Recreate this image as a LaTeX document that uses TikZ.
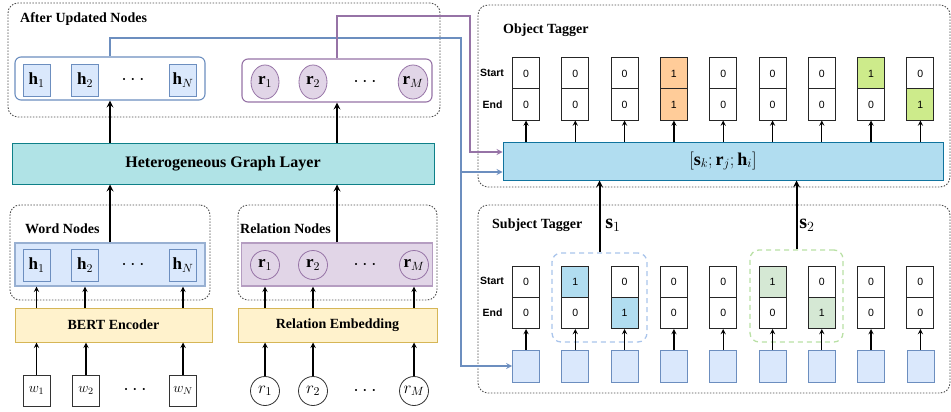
\RequirePackage{fix-cm}
\documentclass[tikz,border=0pt]{standalone}
\usepackage{fontspec}
\setmainfont{Liberation Serif}
\newfontfamily\cellfont{Liberation Sans}
\usetikzlibrary{shapes.geometric}

\definecolor{hfill}{HTML}{DAE8FC}
\definecolor{hline}{HTML}{6C8EBF}
\definecolor{rfill}{HTML}{E1D5E7}
\definecolor{rline}{HTML}{9673A6}
\definecolor{gfill}{HTML}{B0E3E6}
\definecolor{gline}{HTML}{0E8088}
\definecolor{yfill}{HTML}{FFF2CC}
\definecolor{yline}{HTML}{D6B656}
\definecolor{cfill}{HTML}{B1DDF0}
\definecolor{cline}{HTML}{10739E}
\definecolor{ofill}{HTML}{FFCC99}
\definecolor{lfill}{HTML}{CDEB8B}
\definecolor{sfill}{HTML}{B1DDF0}
\definecolor{tfill}{HTML}{D5E8D4}
\definecolor{selblue}{HTML}{A9C4EB}
\definecolor{selgreen}{HTML}{B9E0A5}

\tikzset{
  grp/.style={draw=black!70, dash pattern=on 1.5pt off 1.5pt, line width=0.9pt, rounded corners=10pt, inner sep=0pt},
  grplabel/.style={anchor=west, inner sep=0pt, font=\fontsize{14}{16}\selectfont\bfseries},
  vecgrp/.style={line width=1.1pt, rounded corners=6pt, inner sep=0pt},
  hbox/.style={draw=hline, fill=hfill, line width=0.8pt, minimum width=27pt, minimum height=32pt, inner sep=0pt, font=\fontsize{17}{19}\selectfont},
  rell/.style={ellipse, draw=rline, fill=rfill, line width=0.8pt, minimum width=28pt, minimum height=34pt, inner sep=0pt, font=\fontsize{17}{19}\selectfont},
  rcirc/.style={circle, draw=rline, fill=rfill, line width=0.8pt, minimum size=29pt, inner sep=0pt, font=\fontsize{17}{19}\selectfont},
  layer/.style={line width=1pt, inner sep=0pt, font=\fontsize{14}{16}\selectfont\bfseries},
  inbox/.style={draw=black!80, fill=white, line width=0.8pt, minimum width=27pt, minimum height=31pt, inner sep=0pt, font=\fontsize{14}{16}\selectfont},
  incirc/.style={circle, draw=black!80, fill=white, line width=0.8pt, minimum size=29pt, inner sep=0pt, font=\fontsize{17}{19}\selectfont},
  dots/.style={inner sep=0pt, font=\fontsize{20}{22}\selectfont},
  cell/.style={draw=black!85, line width=1pt, minimum width=27pt, minimum height=31pt, inner sep=0pt, font=\cellfont\fontsize{10.5}{12}\selectfont},
  rowlabel/.style={inner sep=0pt, font=\cellfont\fontsize{10.5}{12}\selectfont\bfseries},
  sqbox/.style={draw=hline, fill=hfill, line width=0.8pt, minimum width=27pt, minimum height=32pt, inner sep=0pt},
  sel/.style={dash pattern=on 5pt off 4pt, line width=1.3pt, rounded corners=9pt, inner sep=0pt},
  bigarrow/.style={->, line width=2pt},
  smallarrow/.style={->, line width=1.4pt},
  tagarrow/.style={->, line width=1.3pt},
  mathlab/.style={inner sep=0pt, font=\fontsize{20}{22}\selectfont},
}

\begin{document}
\begin{tikzpicture}[x=1pt, y=-1pt, >=stealth]
\useasboundingbox (0,0) rectangle (951,412);

% dashed groups
\node[grp, minimum width=432pt, minimum height=114pt] (after) at (224,60) {};
\node[grp, minimum width=200pt, minimum height=95pt] (wordgrp) at (110,252.5) {};
\node[grp, minimum width=199pt, minimum height=95pt] (relgrp) at (337.5,252.5) {};
\node[grp, minimum width=472pt, minimum height=182pt] (objgrp) at (714,96) {};
\node[grp, minimum width=472pt, minimum height=188pt] (subgrp) at (714,299) {};

\node[grplabel] (afterlab) at (20,19) {After Updated Nodes};
\node[grplabel] (wordlab) at (25,229) {Word Nodes};
\node[grplabel] (rellab) at (240,229) {Relation Nodes};
\node[grplabel] (objlab) at (503,30) {Object Tagger};
\node[grplabel] (sublab) at (492,225) {Subject Tagger};

% after updated nodes
\node[vecgrp, draw=hline, fill=white, minimum width=190pt, minimum height=43pt] (hgrp) at (110,78.5) {};
\node[hbox] (uh1) at (36.5,80) {$\mathbf{h}_1$};
\node[hbox] (uh2) at (85,80) {$\mathbf{h}_2$};
\node[dots] (uhd) at (133,80) {$\cdots$};
\node[hbox] (uhn) at (183,80) {$\mathbf{h}_N$};
\node[vecgrp, draw=rline, fill=white, minimum width=190pt, minimum height=43pt] (rgrp) at (337,80.5) {};
\node[rell] (ur1) at (265,82) {$\mathbf{r}_1$};
\node[rell] (ur2) at (313,82) {$\mathbf{r}_2$};
\node[dots] (urd) at (365,82) {$\cdots$};
\node[rell] (urm) at (413,82) {$\mathbf{r}_M$};

% graph layer
\node[layer, draw=gline, fill=gfill, minimum width=422pt, minimum height=41pt, font=\fontsize{16}{18}\selectfont\bfseries] (hgl) at (223,163.5) {Heterogeneous Graph Layer};

% word and relation nodes
\node[vecgrp, rounded corners=0pt, draw=hline!70, fill=hfill, minimum width=190pt, minimum height=43pt] (wbox) at (110,264.5) {};
\node[hbox] (wh1) at (36.5,265) {$\mathbf{h}_1$};
\node[hbox] (wh2) at (85,265) {$\mathbf{h}_2$};
\node[dots] (whd) at (133,265) {$\cdots$};
\node[hbox] (whn) at (183,265) {$\mathbf{h}_N$};
\node[vecgrp, rounded corners=0pt, draw=rline!70, fill=rfill, minimum width=191pt, minimum height=43pt] (rbox) at (337,264.5) {};
\node[rcirc] (rr1) at (265,265) {$\mathbf{r}_1$};
\node[rcirc] (rr2) at (313,265) {$\mathbf{r}_2$};
\node[dots] (rrd) at (365,265) {$\cdots$};
\node[rcirc] (rrm) at (414,265) {$\mathbf{r}_M$};

% encoders
\node[layer, draw=yline, fill=yfill, minimum width=197pt, minimum height=34pt] (bert) at (113.5,325) {BERT Encoder};
\node[layer, draw=yline, fill=yfill, minimum width=199pt, minimum height=34pt] (remb) at (337.5,325) {Relation Embedding};

% inputs
\node[inbox] (w1) at (36.5,390.5) {$w_1$};
\node[inbox] (w2) at (86,390.5) {$w_2$};
\node[dots] (wd) at (135,390) {$\cdots$};
\node[inbox] (wn) at (183,390.5) {$w_N$};
\node[incirc] (in1) at (265,391) {$r_1$};
\node[incirc] (in2) at (313,391) {$r_2$};
\node[dots] (ind) at (365,391) {$\cdots$};
\node[incirc] (inm) at (414,391) {$r_M$};

% left arrows
\foreach \n in {w1,w2,wn}
  \draw[smallarrow] (\n.north) -- (\n.north |- bert.south);
\foreach \n in {in1,in2,inm}
  \draw[smallarrow] (\n.north) -- (\n.north |- remb.south);
\foreach \n in {wh1,wh2,whn}
  \draw[smallarrow] (\n.south |- bert.north) -- (\n.south |- wbox.south);
\foreach \n in {rr1,rr2,rrm}
  \draw[smallarrow] (\n.south |- remb.north) -- (\n.south |- rbox.south);
\draw[bigarrow] (wbox.north) -- (wbox.north |- hgl.south);
\draw[bigarrow] (rbox.north) -- (rbox.north |- hgl.south);
\draw[bigarrow] (hgrp.south |- hgl.north) -- (hgrp.south);
\draw[bigarrow] (rgrp.south |- hgl.north) -- (rgrp.south);

% concat box
\node[draw=cline, fill=cfill, line width=1pt, minimum width=440pt, minimum height=38pt, inner sep=0pt, font=\fontsize{18}{20}\selectfont] (cat) at (723,161) {$[\mathbf{s}_k;\mathbf{r}_j;\mathbf{h}_i]$};

% selection boxes
\node[sel, draw=selblue, minimum width=95pt, minimum height=89pt] (sel1) at (599.5,297.5) {};
\node[sel, draw=selgreen, minimum width=93pt, minimum height=92pt] (sel2) at (796.5,296) {};

% object tagger
\node[rowlabel] (ostart) at (492,73) {Start};
\node[rowlabel] (oend) at (492.5,105) {End};
\foreach \i/\sv/\ev/\sc/\ec in {1/0/0/white/white,2/0/0/white/white,3/0/0/white/white,4/1/1/ofill/ofill,5/0/0/white/white,6/0/0/white/white,7/0/0/white/white,8/1/0/lfill/white,9/0/1/white/lfill}{
  \node[cell, fill=\sc] (os\i) at ({526+49.3*(\i-1)},73.5) {\sv};
  \node[cell, fill=\ec] (oe\i) at ({526+49.3*(\i-1)},104.5) {\ev};
  \draw[tagarrow] (oe\i.south |- cat.north) -- (oe\i.south);
}

% subject tagger
\node[rowlabel] (sstart) at (492,281) {Start};
\node[rowlabel] (send) at (492.5,313) {End};
\foreach \i/\sv/\ev/\sc/\ec in {1/0/0/white/white,2/1/0/sfill/white,3/0/1/white/sfill,4/0/0/white/white,5/0/0/white/white,6/1/0/tfill/white,7/0/1/white/tfill,8/0/0/white/white,9/0/0/white/white}{
  \node[cell, fill=\sc] (ss\i) at ({526+49.3*(\i-1)},281.5) {\sv};
  \node[cell, fill=\ec] (se\i) at ({526+49.3*(\i-1)},313) {\ev};
  \node[sqbox] (sq\i) at ({526+49.3*(\i-1)},366) {};
  \draw[tagarrow] (sq\i.north) -- (se\i.south);
}

% subject spans to concat
\draw[bigarrow] (sel1.north) -- (sel1.north |- cat.south);
\draw[bigarrow] (sel2.north) -- (sel2.north |- cat.south);
\node[mathlab] (s1lab) at (613,225) {$\mathbf{s}_1$};
\node[mathlab] (s2lab) at (807,225) {$\mathbf{s}_2$};

% node features to taggers
\coordinate (bk1) at (461,38);
\coordinate (bk2) at (461,172);
\coordinate (pk1) at (470,16);
\coordinate (pk2) at (470,152);
\draw[hline, line width=1.6pt, ->] (hgrp.north) |- (bk1) -- (bk2) -- (bk2 -| cat.west);
\draw[hline, line width=1.6pt, ->] (bk2) |- (sq1.west);
\draw[rline, line width=1.6pt, ->] (rgrp.north) |- (pk1) -- (pk2) -- (pk2 -| cat.west);
\end{tikzpicture}
\end{document}
